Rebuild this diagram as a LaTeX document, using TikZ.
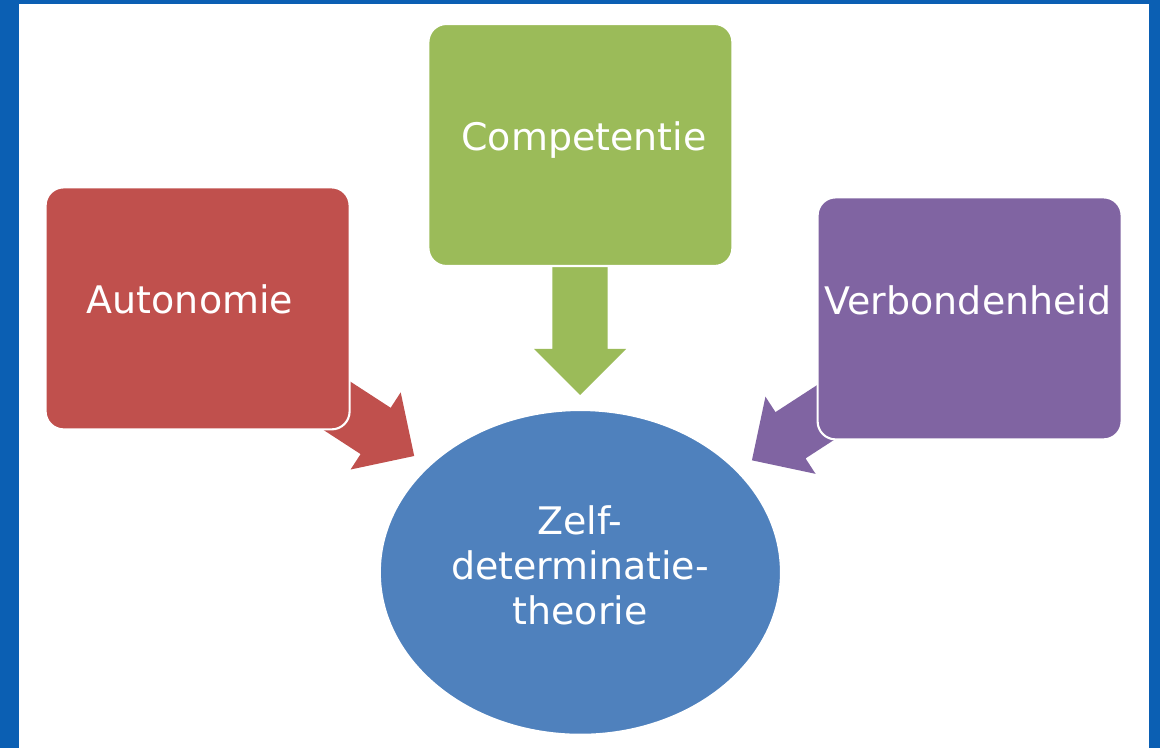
\documentclass[tikz,border=0pt]{standalone}
\usepackage{fontspec}
\setmainfont{DejaVu Sans}
\usetikzlibrary{shapes.geometric}
\definecolor{slideblue}{HTML}{0B5FB3}
\definecolor{autored}{HTML}{C0504D}
\definecolor{compgreen}{HTML}{9BBB59}
\definecolor{verbpurple}{HTML}{8064A2}
\definecolor{zelfblue}{HTML}{4F81BD}
\begin{document}
\begin{tikzpicture}[
    box/.style={draw=white,line width=1.5pt,rectangle,rounded corners=0.45cm,
      minimum width=7.6cm,minimum height=6.05cm},
    needtext/.style={text=white,align=center,font=\fontsize{27}{32}\selectfont},
  ]
    %% Slide background
    \fill[slideblue] (0,0) rectangle (29,18.7);
    \fill[white] (0.475,0) rectangle (28.725,18.6);
    %% Block arrows (colour / tail / angle / length)
    \foreach \col/\tail/\ang/\len in {autored/{8.2,8.7}/-33/2.57,
        compgreen/{14.5,12.2}/-90/3.375, verbpurple/{20.92,8.57}/213/2.53}
      \fill[\col,shift={(\tail)},rotate=\ang] (0,-0.69) -- ({\len-1.15},-0.69)
        -- ({\len-1.15},-1.15) -- (\len,0) -- ({\len-1.15},1.15)
        -- ({\len-1.15},0.69) -- (0,0.69) -- cycle;
    %% Needs
    \node[box,fill=autored] (A) at (4.94,10.99) {};
    \node[box,fill=compgreen] (C) at (14.51,15.075) {};
    \node[box,fill=verbpurple] (V) at (24.24,10.74) {};
    \node[needtext] (At) at (4.75,11.22) {Autonomie};
    \node[needtext] (Ct) at (14.6,15.2) {Competentie};
    \node[needtext] (Vt) at (24.2,11.2) {Verbondenheid};
    %% Theory
    \node[draw=white,line width=1.5pt,fill=zelfblue,ellipse,minimum width=10.03cm,
      minimum height=8.12cm] (Z) at (14.51,4.39) {};
    \node[needtext] (Zt) at (14.5,4.56) {Zelf-\\determinatie-\\theorie};
\end{tikzpicture}
\end{document}
